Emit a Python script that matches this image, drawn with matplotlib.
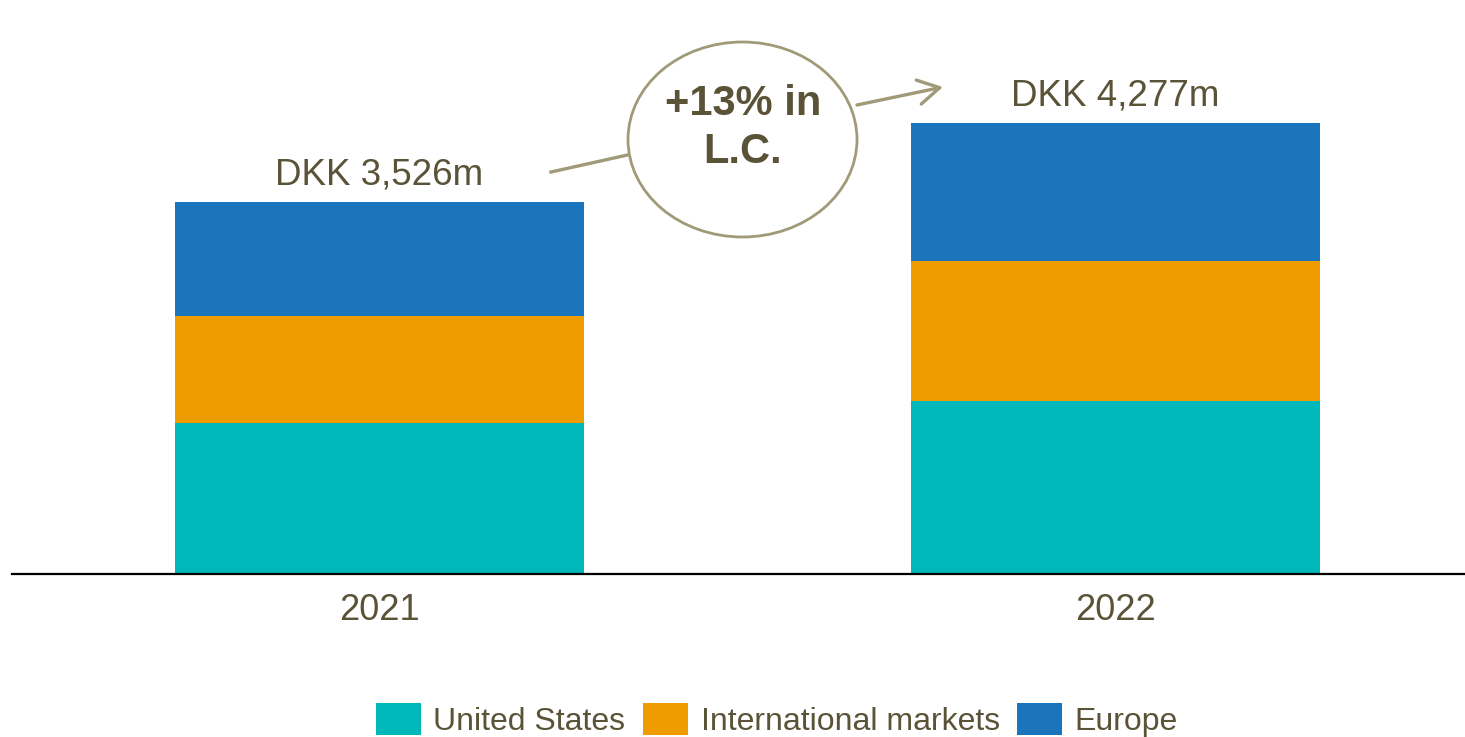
import matplotlib
matplotlib.use("Agg")
import matplotlib.pyplot as plt
from matplotlib.patches import Ellipse, FancyArrowPatch, Patch
from matplotlib.lines import Line2D

plt.rcParams['font.family'] = ['Liberation Sans', 'DejaVu Sans']

years = ["2021", "2022"]
series = ["United States", "International markets", "Europe"]
united_states = [1431, 1640]
international = [1014, 1327]
europe = [1081, 1310]
totals_label = ["DKK 3,526m", "DKK 4,277m"]
growth_label = "+13% in\nL.C."

colors = ["#00B8BA", "#EE9C00", "#1B75BC"]
text_color = "#5A5337"
ring_color = "#A09A78"

W, H = 1465, 737
fig = plt.figure(figsize=(W / 100, H / 100), dpi=100)

base_px = 574
ax = fig.add_axes([12 / W, 1 - base_px / H, (W - 12) / W, base_px / H])
scale = 3526 / 372.0
ax.set_ylim(0, base_px * scale)
ax.set_xlim(-0.4993, 1.4749)

x = [0, 1]
bw = 0.556
bottoms = [0, 0]
for vals, c, name in zip([united_states, international, europe], colors, series):
    ax.bar(x, vals, bw, bottom=bottoms, color=c, label=name, linewidth=0)
    bottoms = [b + v for b, v in zip(bottoms, vals)]

for xi, tot, lab in zip(x, bottoms, totals_label):
    ax.annotate(lab, (xi, tot), xytext=(0, 7), textcoords="offset points",
                ha="center", va="bottom", fontsize=26.5, color=text_color)

for s in ["top", "right", "left"]:
    ax.spines[s].set_visible(False)
ax.spines["bottom"].set_color("black")
ax.spines["bottom"].set_linewidth(1.6)
ax.set_yticks([])
ax.set_xticks(x)
ax.set_xticklabels(years, fontsize=26, color=text_color)
ax.tick_params(axis="x", length=0, pad=14)


def fx(px):
    return px / W


def fy(py):
    return 1 - py / H


# growth bubble
ell = Ellipse((fx(742.5), fy(139.5)), 229 / W, 195 / H, transform=fig.transFigure,
              facecolor="white", edgecolor=ring_color, linewidth=2.0, zorder=5)
fig.add_artist(ell)
fig.add_artist(Line2D([fx(551), fx(632)], [fy(172), fy(154)], transform=fig.transFigure,
                      color=ring_color, linewidth=2.4))
arr = FancyArrowPatch((fx(857), fy(105)), (fx(943), fy(87)), transform=fig.transFigure,
                      arrowstyle="->,head_length=7,head_width=4", color=ring_color,
                      linewidth=2.4, mutation_scale=2.2, shrinkA=0, shrinkB=0)
fig.add_artist(arr)
fig.text(fx(743), fy(128), growth_label, ha="center", va="center", fontsize=30,
         fontweight="bold", color=text_color, linespacing=1.25, zorder=6)

handles = [Patch(facecolor=c, edgecolor="none") for c in colors]
leg = fig.legend(handles, series, loc="center", bbox_to_anchor=(fx(777), fy(720)),
                 ncol=3, frameon=False, fontsize=23, handlelength=1.4, handleheight=1.15,
                 handletextpad=0.4, columnspacing=0.55, borderaxespad=0)
for t in leg.get_texts():
    t.set_color(text_color)

fig.savefig("out.png", dpi=100, facecolor="white")
